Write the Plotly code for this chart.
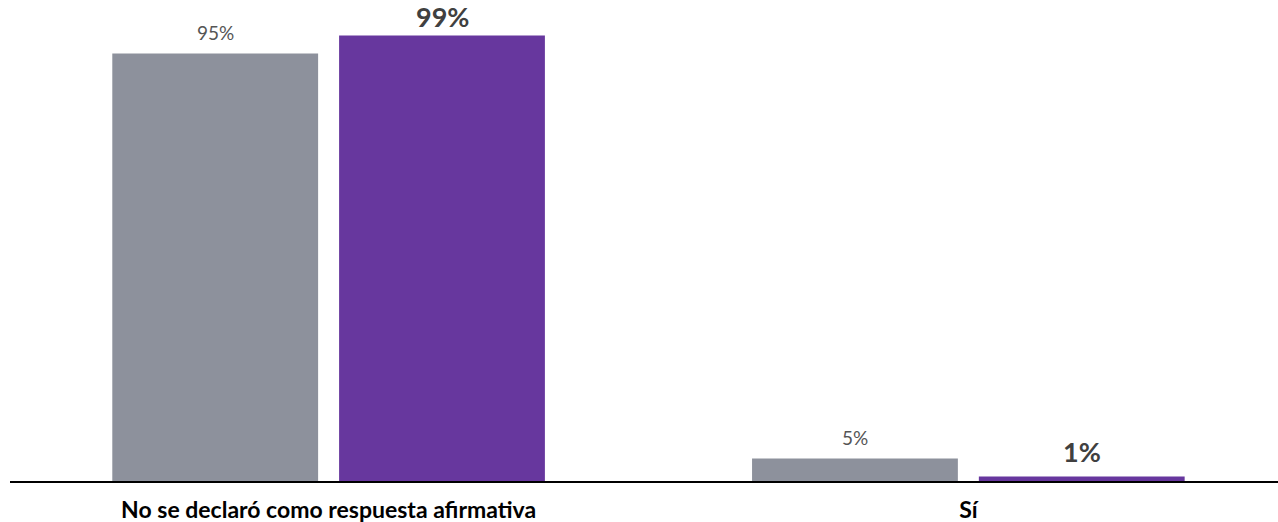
import plotly.graph_objects as go

categories = ["No se declaró como respuesta afirmativa", "Sí"]
series_names = ["Serie 1", "Serie 2"]
values_gray = [95, 5]
values_purple = [99, 1]
labels_gray = ["95%", "5%"]
labels_purple = ["99%", "1%"]

GRAY = "#8D919C"
PURPLE = "#67379E"

fig = go.Figure()
fig.add_trace(go.Bar(x=categories, y=values_gray, name=series_names[0],
                     marker=dict(color=GRAY, line=dict(width=0)), hoverinfo="skip"))
fig.add_trace(go.Bar(x=categories, y=values_purple, name=series_names[1],
                     marker=dict(color=PURPLE, line=dict(width=0)), hoverinfo="skip"))

slot_px = 113.5
gray_yshift = [8, 8]
purple_yshift = [1, 7]
for cat, v, t, ys in zip(categories, values_gray, labels_gray, gray_yshift):
    fig.add_annotation(x=cat, y=v, text=t, showarrow=False, xshift=-slot_px,
                       yanchor="bottom", yshift=ys,
                       font=dict(family="Lato", size=19, color="#555555"))
for cat, v, t, ys in zip(categories, values_purple, labels_purple, purple_yshift):
    fig.add_annotation(x=cat, y=v, text=t, showarrow=False, xshift=slot_px,
                       yanchor="bottom", yshift=ys,
                       font=dict(family="Lato", size=27, color="#404040", weight="bold"))

fig.update_layout(
    width=1278, height=522,
    margin=dict(l=10, r=0, t=0, b=41),
    paper_bgcolor="white", plot_bgcolor="white",
    barmode="group", bargap=0.291, bargroupgap=0.0925,
    showlegend=False,
    xaxis=dict(range=[-0.498, 1.484], showline=True, linecolor="black", linewidth=1.5,
               showgrid=False, ticks="", ticklen=0, ticklabelstandoff=8,
               tickfont=dict(family="Lato", size=23, color="black", weight="bold")),
    yaxis=dict(range=[0, 106.9], visible=False, showgrid=False, zeroline=False),
)

fig.write_html("out.html", config={"displayModeBar": False},
               post_script="document.body.style.margin='0';document.body.style.padding='0';")
